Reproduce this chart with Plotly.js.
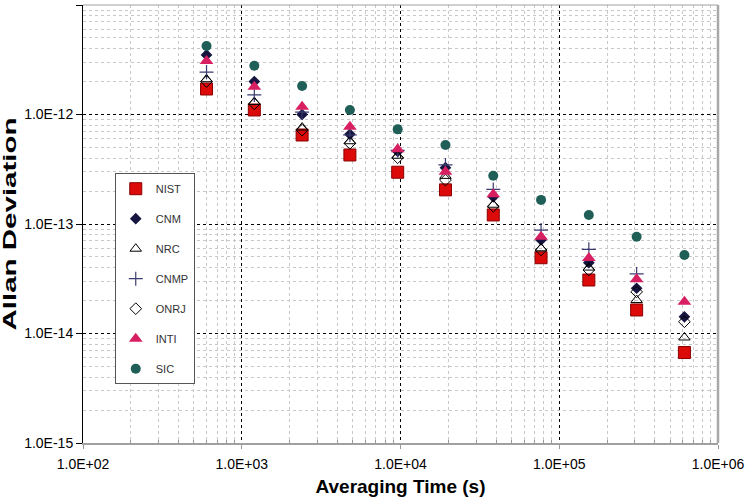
<!DOCTYPE html>
<html>
<head>
<meta charset="utf-8">
<script src="https://cdn.plot.ly/plotly-3.0.1.min.js"></script>
<style>
  html, body { margin: 0; padding: 0; background: #ffffff; }
  #chart { width: 748px; height: 499px; }
</style>
</head>
<body>
<div id="chart"></div>
<script>
// Averaging times (s)
const tau = [600, 1200, 2400, 4800, 9600, 19200, 38400, 76800, 153600, 307200, 614400];

// Allan deviation per laboratory
const NIST = [1.71e-12, 1.10e-12, 6.5e-13, 4.27e-13, 2.97e-13, 2.05e-13, 1.21e-13, 4.92e-14, 3.08e-14, 1.64e-14, 6.7e-15];
const CNM  = [3.5e-12, 2.0e-12, 1.0e-12, 6.6e-13, 4.6e-13, 3.27e-13, 1.77e-13, 7.15e-14, 4.43e-14, 2.59e-14, 1.42e-14];
const NRC  = [2.1e-12, 1.3e-12, 7.6e-13, 5.7e-13, 4.2e-13, 2.75e-13, 1.5e-13, 6.0e-14, 4.0e-14, 2.02e-14, 9.2e-15];
const CNMP = [2.44e-12, 1.51e-12, 1.05e-12, 6.5e-13, 4.7e-13, 3.46e-13, 2.07e-13, 8.8e-14, 5.87e-14, 3.5e-14, null];
const ONRJ = [2.0e-12, 1.25e-12, 7.2e-13, 5.46e-13, 4.03e-13, 2.52e-13, 1.45e-13, 5.8e-14, 3.8e-14, 2.4e-14, 1.28e-14];
const INTI = [3.08e-12, 1.79e-12, 1.18e-12, 7.74e-13, 4.81e-13, 3.0e-13, 1.87e-13, 7.65e-14, 4.89e-14, 3.13e-14, 1.95e-14];
const SIC  = [4.23e-12, 2.79e-12, 1.82e-12, 1.10e-12, 7.32e-13, 5.27e-13, 2.76e-13, 1.66e-13, 1.21e-13, 7.65e-14, 5.21e-14];

// Tick labels
const xTickVals = [1e2, 1e3, 1e4, 1e5, 1e6];
const xTickText = ["1.0E+02", "1.0E+03", "1.0E+04", "1.0E+05", "1.0E+06"];
const yTickVals = [1e-15, 1e-14, 1e-13, 1e-12, 1e-11];
const yTickText = ["1.0E-15", "1.0E-14", "1.0E-13", "1.0E-12", "1.0E-11"];

function minorVals(lo, hi) {
  const out = [];
  for (let d = lo; d < hi; d++) for (let k = 2; k <= 9; k++) out.push(k * Math.pow(10, d));
  return out;
}

const series = [
  {name: "NIST", y: NIST, marker: {symbol: "square", size: 12, color: "#dd0a0a", line: {color: "#8a0000", width: 1}}},
  {name: "CNM",  y: CNM,  marker: {symbol: "diamond", size: 9, color: "#15153f", line: {width: 0}}},
  {name: "NRC",  y: NRC,  marker: {symbol: "triangle-up-open", size: 10, color: "#000000", line: {width: 1}}},
  {name: "CNMP", y: CNMP, marker: {symbol: "cross-thin-open", size: 10, color: "#3b3b72", line: {width: 1.2}}},
  {name: "ONRJ", y: ONRJ, marker: {symbol: "diamond-open", size: 9, color: "#000000", line: {width: 1}}},
  {name: "INTI", y: INTI, marker: {symbol: "triangle-up", size: 12, color: "#d81f62", line: {width: 0}}},
  {name: "SIC",  y: SIC,  marker: {symbol: "circle", size: 10, color: "#1f5f57", line: {width: 0}}}
];

const traces = series.map(s => ({
  type: "scatter", mode: "markers", x: tau, y: s.y, name: s.name,
  legendgroup: s.name, marker: s.marker, cliponaxis: false
}));

const font = "Arial, 'Liberation Sans', sans-serif";

const layout = {
  width: 748, height: 499,
  margin: {l: 83, r: 30, t: 5, b: 56},
  paper_bgcolor: "#ffffff", plot_bgcolor: "#ffffff",
  font: {family: font, color: "#000000"},
  showlegend: true,
  legend: {
    x: 0.05, y: 0.616, xanchor: "left", yanchor: "top",
    bgcolor: "#ffffff", bordercolor: "#555555", borderwidth: 1,
    font: {family: font, size: 11, color: "#333333"},
    itemwidth: 30, traceorder: "grouped", tracegroupgap: 11
  },
  xaxis: {
    type: "log", range: [2, 6],
    tickmode: "array", tickvals: xTickVals, ticktext: xTickText,
    tickfont: {family: font, size: 14, color: "#000000"},
    ticks: "outside", ticklen: 4, tickcolor: "#999999", ticklabelstandoff: 3,
    showline: true, linecolor: "#a0a0a0", linewidth: 2,
    showgrid: true, gridcolor: "#000000", griddash: "dot", gridwidth: 1,
    minor: {tickmode: "array", tickvals: minorVals(2, 6), showgrid: true, gridcolor: "#c8c8c8", griddash: "dot", gridwidth: 1, ticks: "inside", ticklen: 3, tickcolor: "#999999"},
    zeroline: false,
    title: {text: "Averaging Time (s)", font: {family: font, size: 19, weight: "bold", color: "#000000"}, standoff: 9}
  },
  yaxis: {
    type: "log", range: [-15, -11],
    tickmode: "array", tickvals: yTickVals, ticktext: yTickText,
    tickfont: {family: font, size: 14, color: "#000000"},
    ticks: "outside", ticklen: 6, tickcolor: "#000000",
    showline: true, linecolor: "#000000", linewidth: 1,
    showgrid: true, gridcolor: "#000000", griddash: "dot", gridwidth: 1,
    minor: {tickmode: "array", tickvals: minorVals(-15, -11), showgrid: true, gridcolor: "#c8c8c8", griddash: "dot", gridwidth: 1, ticks: ""},
    zeroline: false,
    title: {text: "Allan Deviation", font: {family: font, size: 18, weight: "bold", color: "#000000"}, standoff: 9}
  },
  shapes: [
    {type: "line", xref: "paper", yref: "paper", x0: 0, x1: 1, y0: 1, y1: 1, line: {color: "#a0a0a0", width: 1}},
    {type: "line", xref: "paper", yref: "paper", x0: 1, x1: 1, y0: 0, y1: 1, line: {color: "#a8a8a8", width: 2.5}}
  ]
};

Plotly.newPlot("chart", traces, layout, {staticPlot: true, displayModeBar: false}).then(() => {
  const t = document.querySelector("#chart .ytitle");
  if (t) {
    t.setAttribute("textLength", "213");
    t.setAttribute("lengthAdjust", "spacingAndGlyphs");
  }
});
</script>
</body>
</html>
